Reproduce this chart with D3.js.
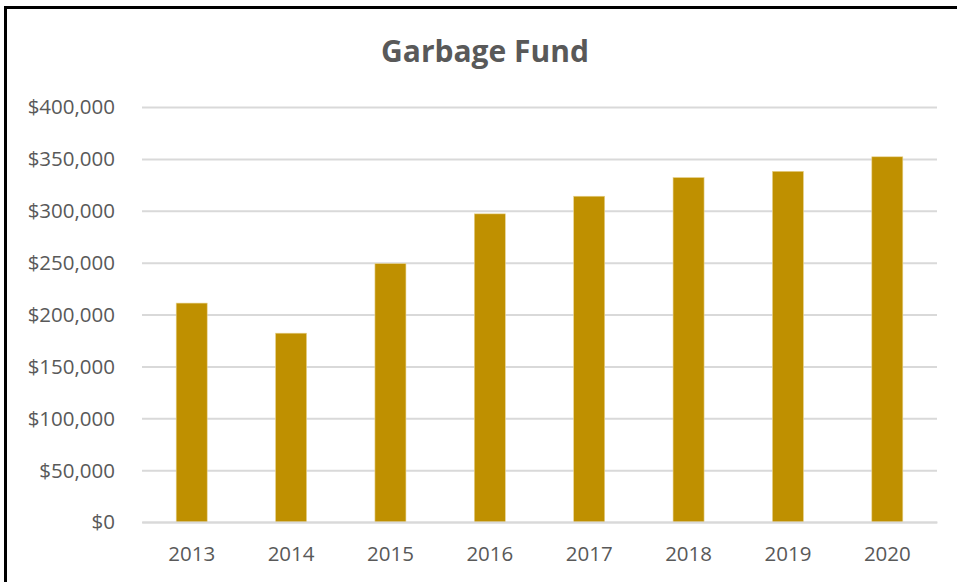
<!DOCTYPE html>
<html>
<head>
<meta charset="utf-8">
<script src="https://cdn.jsdelivr.net/npm/d3@7"></script>
<style>
  body { margin: 0; background: #fff; }
  text { font-family: "Open Sans", "Noto Sans", sans-serif; }
</style>
</head>
<body>
<div id="chart-area"></div>
<script>
// values
var years = ["2013", "2014", "2015", "2016", "2017", "2018", "2019", "2020"];
var fund = [211000, 182000, 249000, 297000, 314000, 332000, 338000, 352000];
var yTicks = [0, 50000, 100000, 150000, 200000, 250000, 300000, 350000, 400000];

var width = 957, height = 582;
var plotLeft = 142, plotRight = 937, plotTop = 107, plotBottom = 522;

var svg = d3.select("#chart-area").append("svg")
	.attr("width", width)
	.attr("height", height);

// frame (only left and top edges visible in the crop)
svg.append("rect")
	.attr("x", 5.5).attr("y", 7.5)
	.attr("width", 1200).attr("height", 800)
	.attr("fill", "none")
	.attr("stroke", "black")
	.attr("stroke-width", 3);

svg.append("text")
	.attr("x", 485).attr("y", 62)
	.attr("text-anchor", "middle")
	.attr("font-size", 30)
	.attr("font-weight", "bold")
	.attr("fill", "#595959")
	.text("Garbage Fund");

var x = d3.scaleBand().domain(years).range([plotLeft, plotRight])
	.paddingInner(0.688).paddingOuter(0.344);
var y = d3.scaleLinear().domain([0, 400000]).range([plotBottom, plotTop]);

var money = function(d) { return "$" + d3.format(",")(d); };

// gridlines + y labels
var yAxis = svg.append("g")
	.attr("transform", "translate(" + plotLeft + ",0)")
	.call(d3.axisLeft(y).tickValues(yTicks).tickFormat(money)
		.tickSize(-(plotRight - plotLeft)).tickPadding(27));
yAxis.select(".domain").remove();
yAxis.selectAll("line").attr("stroke", "#d9d9d9").attr("stroke-width", 2);
yAxis.selectAll("text")
	.attr("fill", "#595959")
	.attr("font-size", 20.5)
	.attr("font-family", "Open Sans")
	.attr("dy", "0.34em");

// bars
svg.append("g").selectAll("rect")
	.data(fund)
	.enter().append("rect")
	.attr("x", function(d, i) { return x(years[i]); })
	.attr("y", function(d) { return y(d); })
	.attr("width", x.bandwidth())
	.attr("height", function(d) { return y(0) - y(d); })
	.attr("fill", "#bf9000")
	.attr("stroke", "#e8d38f")
	.attr("stroke-width", 0.6);

// x axis
var xAxis = svg.append("g")
	.attr("transform", "translate(0," + plotBottom + ")")
	.call(d3.axisBottom(x).tickSize(0).tickPadding(0));
xAxis.select(".domain").attr("stroke", "#d9d9d9").attr("stroke-width", 2);
xAxis.selectAll("text")
	.attr("fill", "#595959")
	.attr("font-size", 20.5)
	.attr("font-family", "Open Sans")
	.attr("dy", 0)
	.attr("y", 39);
</script>
</body>
</html>
